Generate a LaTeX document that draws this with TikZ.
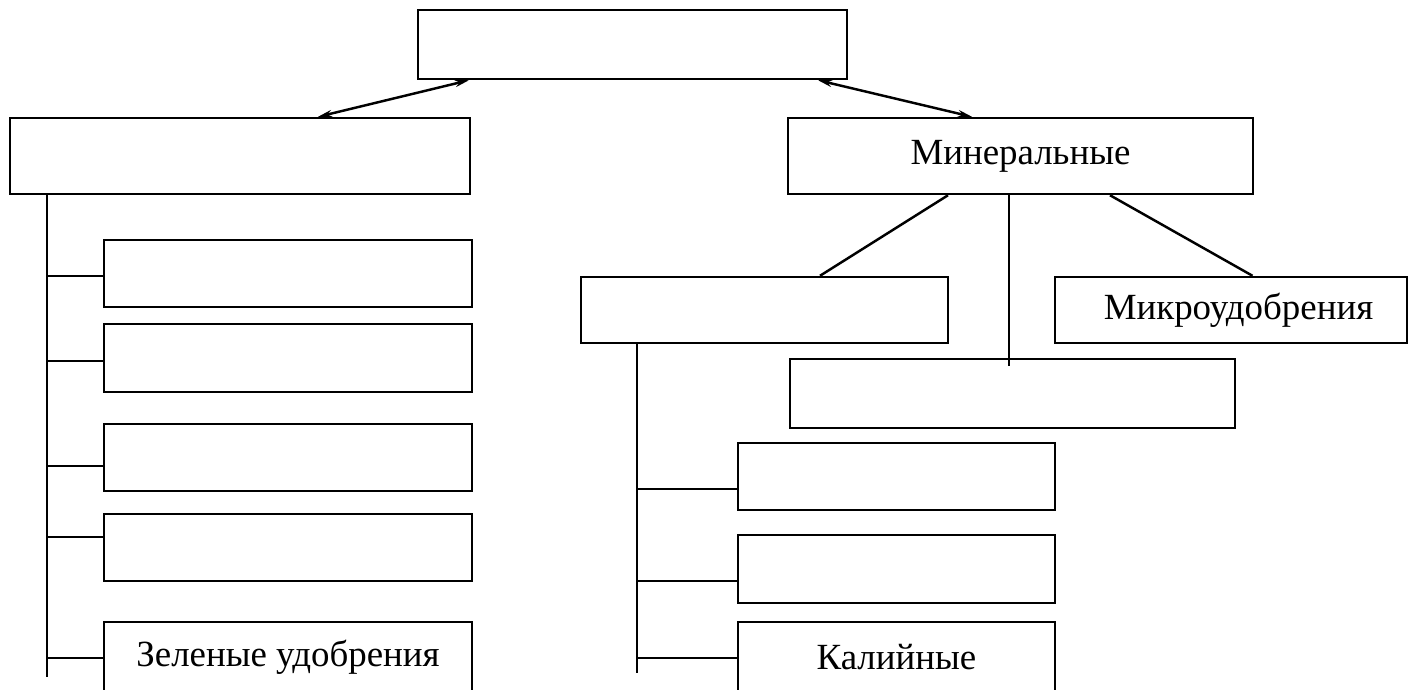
\documentclass[tikz,border=0pt]{standalone}
\usepackage{fontspec}
\setmainfont{Liberation Serif}
\usetikzlibrary{arrows.meta, positioning, calc}

\begin{document}
\begin{tikzpicture}[
  box/.style={draw, line width=0.7pt, fill=white, inner sep=0pt, align=center, font=\fontsize{10.5}{12}\selectfont},
  link/.style={line width=0.7pt, {Stealth[length=4pt,width=2pt]}-{Stealth[length=4pt,width=2pt]}},
  wire/.style={line width=0.7pt}
]
  \useasboundingbox[fill=white] (0,0) rectangle (14.14,-6.89);

  % top level
  \node[box, minimum width=4.29cm, minimum height=0.69cm] (root) at (6.325,-0.445) {};
  \node[box, minimum width=4.60cm, minimum height=0.76cm] (org) at (2.40,-1.56) {};
  \node[box, minimum width=4.65cm, minimum height=0.76cm] (min) at (10.205,-1.56) {Минеральные};

  % left column
  \node[box, minimum width=3.68cm, minimum height=0.67cm] (l1) at (2.88,-2.735) {};
  \node[box, minimum width=3.68cm, minimum height=0.68cm] (l2) at (2.88,-3.58) {};
  \node[box, minimum width=3.68cm, minimum height=0.67cm] (l3) at (2.88,-4.575) {};
  \node[box, minimum width=3.68cm, minimum height=0.67cm] (l4) at (2.88,-5.475) {};
  \node[box, minimum width=3.68cm, minimum height=0.70cm] (l5) at (2.88,-6.57) {Зеленые удобрения};

  % mineral branch
  \node[box, minimum width=3.67cm, minimum height=0.66cm] (r1) at (7.645,-3.10) {};
  \node[box, minimum width=3.52cm, minimum height=0.66cm] (micro) at (12.31,-3.10) {\hspace{0.15cm}Микроудобрения};
  \node[box, minimum width=4.45cm, minimum height=0.69cm] (r2) at (10.125,-3.935) {};
  \node[box, minimum width=3.17cm, minimum height=0.67cm] (ra) at (8.965,-4.765) {};
  \node[box, minimum width=3.17cm, minimum height=0.68cm] (rb) at (8.965,-5.69) {};
  \node[box, minimum width=3.17cm, minimum height=0.70cm] (rc) at (8.965,-6.57) {Калийные};

  % arrows from the root
  \draw[link] ([xshift=-1.635cm]root.south) -- ([xshift=0.78cm]org.north);
  \draw[link] ([xshift=1.855cm]root.south) -- ([xshift=-0.485cm]min.north);

  % lines below Минеральные
  \draw[wire] ([xshift=-0.725cm]min.south) -- ([xshift=0.555cm]r1.north);
  \draw[wire] ([xshift=0.895cm]min.south) -- ([xshift=0.215cm]micro.north);
  \coordinate (mdrop) at ($([xshift=-0.115cm]min.south |- r2.north)+(0,-0.08)$);
  \draw[wire] ([xshift=-0.115cm]min.south) -- (mdrop);

  % left trunk
  \coordinate (ltop) at ($(org.south west)+(0.38,0)$);
  \coordinate (lend) at (ltop |- 0,-6.77);
  \draw[wire] (ltop) -- (lend);
  \foreach \b/\d in {l1/-0.025,l2/-0.03,l3/-0.085,l4/0.105,l5/-0.01}
    \draw[wire] ($(ltop |- \b.west)+(0,\d)$) -- ($(\b.west)+(0,\d)$);

  % right trunk
  \coordinate (rtop) at ($(r1.south west)+(0.57,0)$);
  \coordinate (rend) at (rtop |- 0,-6.73);
  \draw[wire] (rtop) -- (rend);
  \foreach \b/\d in {ra/-0.125,rb/-0.12,rc/-0.01}
    \draw[wire] ($(rtop |- \b.west)+(0,\d)$) -- ($(\b.west)+(0,\d)$);
\end{tikzpicture}
\end{document}
